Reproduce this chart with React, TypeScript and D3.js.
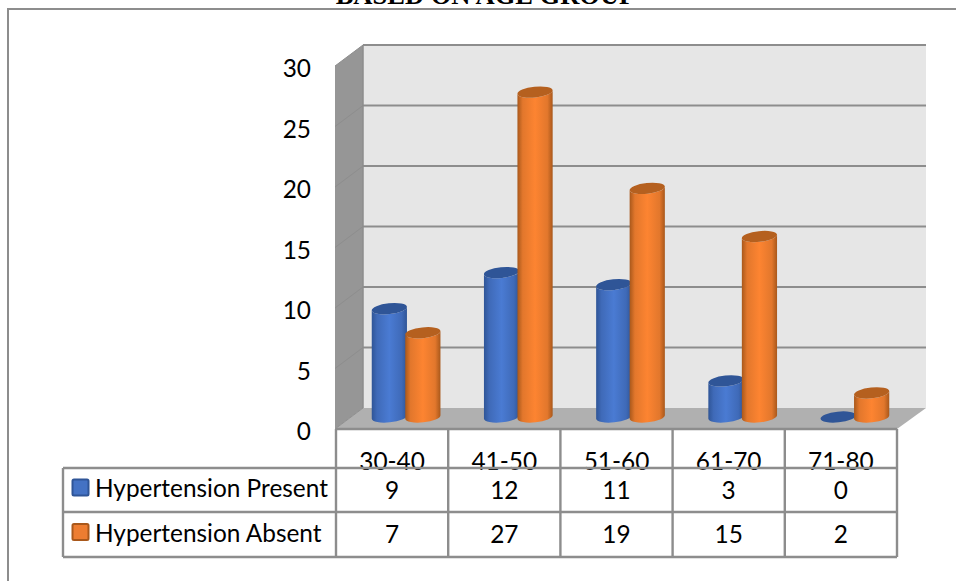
import React from "react";
import * as d3 from "d3";

const categories = ["30-40", "41-50", "51-60", "61-70", "71-80"];
const presentValues = [9, 12, 11, 3, 0];
const absentValues = [7, 27, 19, 15, 2];
const seriesNames = ["Hypertension Present", "Hypertension Absent"];
const yTicks = [0, 5, 10, 15, 20, 25, 30];

const W = 956;
const H = 581;
const FONT = "Lato, 'Noto Sans', sans-serif";
const FONT_SIZE = 24.4;
const LINE = "#8d8d8d";

// Front edge of the 3D box, back wall and the plane the cylinders stand on
const yFront = d3.scaleLinear().domain([0, 30]).range([429, 66]);
const yBack = d3.scaleLinear().domain([0, 30]).range([408, 45]);
const yBar = d3.scaleLinear().domain([0, 30]).range([417, 56]);
const xBand = d3.scaleBand<string>().domain(categories).range([336, 897]);
const xSeries = d3.scaleBand<string>().domain(seriesNames).range([-33.5, 33.5]);

const DEPTH_X = 14;
const RX = 17.7;
const RY = 5.4;
const TILT = 6;

const series = [
  { name: seriesNames[0], values: presentValues, grad: "gradPresent", cap: "#2f5597", edge: "#2f5597", fill: "#4472c4" },
  { name: seriesNames[1], values: absentValues, grad: "gradAbsent", cap: "#b5601f", edge: "#a9581b", fill: "#ed7d31" },
];

function cylinderBody(cx: number, top: number, base: number) {
  const a = (TILT * Math.PI) / 180;
  const dx = RX * Math.cos(a);
  const dy = RX * Math.sin(a);
  return [
    `M${cx - dx},${top + dy}`,
    `L${cx - dx},${base + dy}`,
    `A${RX},${RY} ${-TILT} 0 0 ${cx + dx},${base - dy}`,
    `L${cx + dx},${top - dy}`,
    `A${RX},${RY} ${-TILT} 0 1 ${cx - dx},${top + dy}`,
    "Z",
  ].join(" ");
}

function Cylinder({ cx, value, s }: { cx: number; value: number; s: (typeof series)[number] }) {
  const top = yBar(value);
  const base = yBar(0);
  return (
    <g>
      {value > 0 && <path d={cylinderBody(cx, top, base)} fill={`url(#${s.grad})`} />}
      <ellipse cx={cx} cy={top} rx={RX} ry={RY} fill={s.cap} transform={`rotate(${-TILT} ${cx} ${top})`} />
    </g>
  );
}

function Gradient({ id, edge, mid, light }: { id: string; edge: string; mid: string; light: string }) {
  return (
    <linearGradient id={id} x1="0" x2="1" y1="0" y2="0">
      <stop offset="0" stopColor={edge} />
      <stop offset="0.15" stopColor={mid} />
      <stop offset="0.5" stopColor={light} />
      <stop offset="0.85" stopColor={mid} />
      <stop offset="1" stopColor={edge} />
    </linearGradient>
  );
}

export default function App() {
  const tableLeft = 63;
  const tableX0 = xBand(categories[0])!;
  const tableRight = xBand(categories[4])! + xBand.bandwidth();
  const rowLines = [468, 512, 557];
  const wallLeft = xBand.range()[0] - 1;
  const wallBack = wallLeft + 28;
  const floorRight = 926;
  const rowValues = [presentValues, absentValues];
  const rowCenters = [490, 534.5];

  return (
    <svg width={W} height={H} viewBox={`0 0 ${W} ${H}`} style={{ position: "absolute", left: 0, top: 0, background: "#fff" }}>
      <defs>
        <Gradient id="gradPresent" edge="#2f5597" mid="#3f6ab8" light="#4a7bd3" />
        <Gradient id="gradAbsent" edge="#a9581b" mid="#e2772c" light="#fd8431" />
      </defs>

      <text x={485.5} y={4} textAnchor="middle" fontFamily="'Liberation Serif', serif" fontWeight="bold" fontSize={26.5} fill="#000">
        BASED ON AGE GROUP
      </text>

      {/* Outer chart frame: only the top and left edges are visible */}
      <path d={`M${W},9 H8 V${H}`} fill="none" stroke={LINE} strokeWidth={2} />

      {/* 3D box: back wall, side wall, floor */}
      <rect x={wallBack} y={yBack(30)} width={floorRight - wallBack} height={yBack(0) - yBack(30)} fill="#e6e6e6" />
      <polygon
        points={`${wallLeft},${yFront(30)} ${wallBack},${yBack(30)} ${wallBack},${yBack(0)} ${wallLeft},${yFront(0)}`}
        fill="#969696"
      />
      <polygon
        points={`${wallLeft},${yFront(0)} ${wallBack},${yBack(0)} ${floorRight},${yBack(0)} ${xBand.range()[1]},${yFront(0)}`}
        fill="#b0b0b0"
      />
      {yTicks.map((t) => (
        <g key={t} fill="none" stroke={LINE}>
          {t > 0 && <line x1={wallBack} x2={floorRight} y1={yBack(t)} y2={yBack(t)} strokeWidth={2} />}
          <line x1={wallLeft} x2={wallBack} y1={yFront(t)} y2={yBack(t)} strokeWidth={1} />
        </g>
      ))}
      <line x1={wallBack} x2={wallBack} y1={yBack(30)} y2={yBack(0)} stroke={LINE} strokeWidth={1.5} />

      {yTicks.map((t) => (
        <text key={t} x={311} y={yFront(t) + 5} textAnchor="end" dominantBaseline="middle" fontFamily={FONT} fontSize={FONT_SIZE} fill="#000">
          {t}
        </text>
      ))}

      {/* Cylinders, back to front by series */}
      {categories.map((c, i) =>
        series.map((s) => (
          <Cylinder
            key={c + s.name}
            cx={xBand(c)! + xBand.bandwidth() / 2 + DEPTH_X + xSeries(s.name)! + xSeries.bandwidth() / 2}
            value={s.values[i]}
            s={s}
          />
        ))
      )}

      {/* Category labels sit in the strip under the floor and run into the table's top rule */}
      {categories.map((c) => (
        <text key={c} x={xBand(c)! + xBand.bandwidth() / 2} y={470} textAnchor="middle" fontFamily={FONT} fontSize={FONT_SIZE} fill="#000">
          {c}
        </text>
      ))}

      {/* Data table */}
      <g stroke={LINE} strokeWidth={2.4} fill="none">
        <line x1={tableX0} x2={tableX0} y1={yFront(0)} y2={rowLines[2]} />
        {categories.map((c) => (
          <line key={c} x1={xBand(c)! + xBand.bandwidth()} x2={xBand(c)! + xBand.bandwidth()} y1={yFront(0)} y2={rowLines[2]} />
        ))}
        <line x1={tableX0} x2={tableRight} y1={yFront(0)} y2={yFront(0)} />
        <line x1={tableLeft} x2={tableLeft} y1={rowLines[0]} y2={rowLines[2]} />
        {rowLines.map((y) => (
          <line key={y} x1={tableLeft} x2={tableRight} y1={y} y2={y} />
        ))}
      </g>

      {series.map((s, r) => (
        <g key={s.name}>
          <rect x={72.5} y={rowCenters[r] - 10.5} width={16} height={16} rx={1.5} fill={s.fill} stroke={s.edge} strokeWidth={2} />
          <text x={95} y={rowCenters[r] + 1} dominantBaseline="middle" fontFamily={FONT} fontSize={FONT_SIZE} fill="#000">
            {s.name}
          </text>
          {categories.map((c, i) => (
            <text
              key={c}
              x={xBand(c)! + xBand.bandwidth() / 2}
              y={rowCenters[r] + 2.5}
              textAnchor="middle"
              dominantBaseline="middle"
              fontFamily={FONT}
              fontSize={FONT_SIZE}
              fill="#000"
            >
              {rowValues[r][i]}
            </text>
          ))}
        </g>
      ))}
    </svg>
  );
}
